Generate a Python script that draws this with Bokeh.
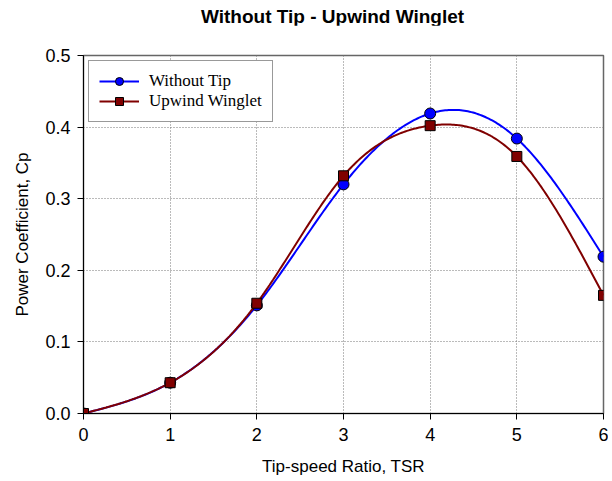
import numpy as np
from bokeh.plotting import figure
from bokeh.layouts import column
from bokeh.models import Legend, LegendItem, Range1d, FixedTicker, Div, CustomJSTickFormatter
from bokeh.embed import file_html
from bokeh.resources import INLINE

# ---- data ----
tsr = [0, 1, 2, 3, 4, 5, 6]
cp_without_tip = [0.0, 0.043, 0.151, 0.320, 0.419, 0.384, 0.219]
cp_upwind_winglet = [0.0, 0.043, 0.154, 0.332, 0.402, 0.359, 0.165]
x_ticks = [0, 1, 2, 3, 4, 5, 6]
y_ticks = [0.0, 0.1, 0.2, 0.3, 0.4, 0.5]
title_text = "Without Tip - Upwind Winglet"
x_label = "Tip-speed Ratio, TSR"
y_label = "Power Coefficient, Cp"
names = ["Without Tip", "Upwind Winglet"]
colors = ["#0000FF", "#800000"]


def natural_spline(xs, ys, n=300):
    """Natural cubic spline through the data points (for drawing the smooth line)."""
    xs = np.asarray(xs, float)
    ys = np.asarray(ys, float)
    k = len(xs)
    h = np.diff(xs)
    A = np.zeros((k, k))
    b = np.zeros(k)
    A[0, 0] = 1.0
    A[-1, -1] = 1.0
    for i in range(1, k - 1):
        A[i, i - 1] = h[i - 1]
        A[i, i] = 2 * (h[i - 1] + h[i])
        A[i, i + 1] = h[i]
        b[i] = 6 * ((ys[i + 1] - ys[i]) / h[i] - (ys[i] - ys[i - 1]) / h[i - 1])
    M = np.linalg.solve(A, b)
    xx = np.linspace(xs[0], xs[-1], n)
    yy = np.empty_like(xx)
    for j, xv in enumerate(xx):
        i = min(np.searchsorted(xs, xv, side="right") - 1, k - 2)
        i = max(i, 0)
        t0 = xs[i + 1] - xv
        t1 = xv - xs[i]
        yy[j] = (M[i] * t0 ** 3 / (6 * h[i]) + M[i + 1] * t1 ** 3 / (6 * h[i])
                 + (ys[i] / h[i] - M[i] * h[i] / 6) * t0
                 + (ys[i + 1] / h[i] - M[i + 1] * h[i] / 6) * t1)
    return xx, yy


title_div = Div(
    text=('<div style="padding-left:201px; padding-top:6px; white-space:nowrap; '
          'font-family:\'Liberation Sans\'; font-size:19px; font-weight:bold; '
          'line-height:22px; color:black;">' + title_text + '</div>'),
    width=608, height=25, margin=0)

p = figure(width=608, height=454, output_backend="svg", toolbar_location=None,
           x_range=Range1d(0, 6), y_range=Range1d(0, 0.5),
           min_border_left=83, min_border_right=5, min_border_top=30, min_border_bottom=66,
           margin=0)

sx1, sy1 = natural_spline(tsr, cp_without_tip)
sx2, sy2 = natural_spline(tsr, cp_upwind_winglet)

l1 = p.line(sx1, sy1, line_color=colors[0], line_width=2)
m1 = p.scatter(tsr, cp_without_tip, marker="circle", size=11,
               fill_color=colors[0], line_color="black", line_width=1)
l2 = p.line(sx2, sy2, line_color=colors[1], line_width=2)
m2 = p.scatter(tsr, cp_upwind_winglet, marker="square", size=10,
               fill_color=colors[1], line_color="black", line_width=1)

legend = Legend(items=[LegendItem(label=names[0], renderers=[l1, m1]),
                       LegendItem(label=names[1], renderers=[l2, m2])],
                location="top_left", margin=5, padding=10, spacing=0,
                glyph_width=40, glyph_height=20, label_height=20, label_standoff=10,
                label_text_font="Liberation Serif", label_text_font_size="17px",
                label_text_color="black",
                border_line_color="#333333", border_line_width=1.5,
                background_fill_color="white", background_fill_alpha=1.0)
p.add_layout(legend, "center")

p.xaxis.ticker = FixedTicker(ticks=x_ticks)
p.yaxis.ticker = FixedTicker(ticks=y_ticks)
p.yaxis.formatter = CustomJSTickFormatter(code="return tick.toFixed(1);")

for ax in (p.xaxis, p.yaxis):
    ax.axis_line_color = "black"
    ax.axis_line_width = 1
    ax.major_tick_line_color = "black"
    ax.major_tick_out = 6
    ax.major_tick_in = 0
    ax.minor_tick_line_color = None
    ax.major_label_text_font = "Liberation Sans"
    ax.major_label_text_font_size = "18px"
    ax.major_label_text_color = "black"
    ax.axis_label_text_font = "Liberation Sans"
    ax.axis_label_text_font_size = "17px"
    ax.axis_label_text_font_style = "normal"
    ax.axis_label_text_color = "black"

p.xaxis.axis_label = x_label
p.yaxis.axis_label = y_label
p.xaxis.major_label_standoff = 8
p.yaxis.major_label_standoff = 7
p.xaxis.axis_label_standoff = 13
p.yaxis.axis_label_standoff = 10

p.xgrid.grid_line_color = "#777777"
p.ygrid.grid_line_color = "#777777"
p.xgrid.grid_line_dash = "1 2"
p.ygrid.grid_line_dash = "1 2"
p.xgrid.grid_line_width = 1
p.ygrid.grid_line_width = 1

p.outline_line_color = "#666666"
p.outline_line_width = 1.5
p.background_fill_color = "white"
p.border_fill_color = "white"

layout = column(title_div, p, spacing=0)
open("out.html", "w").write(file_html(layout, INLINE))
